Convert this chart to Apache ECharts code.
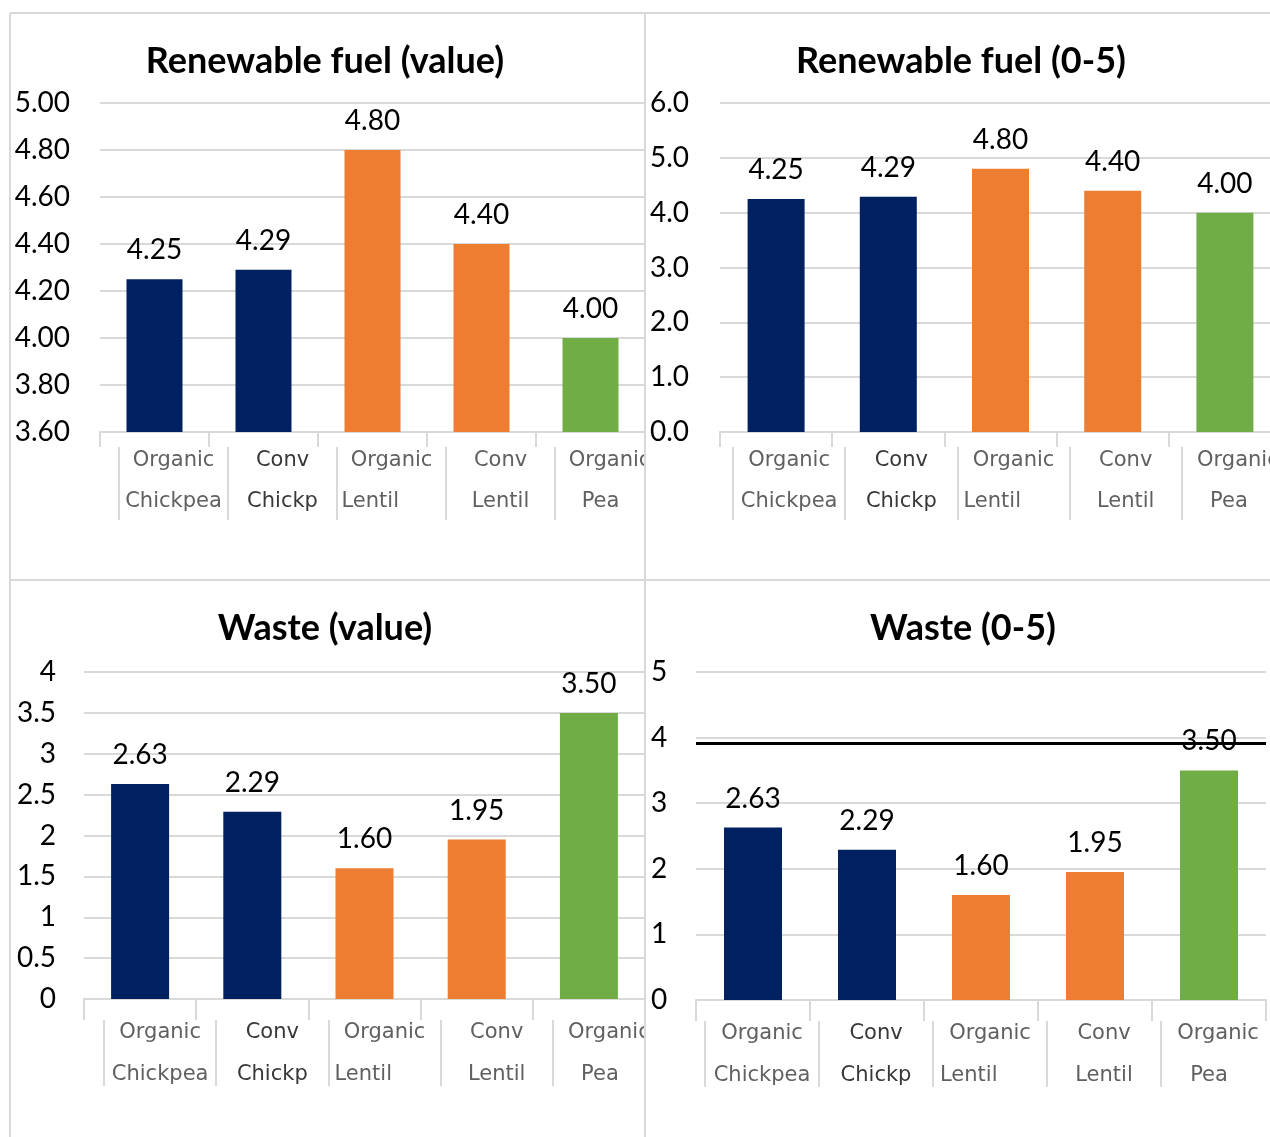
<!DOCTYPE html>
<html>
<head>
<meta charset="utf-8">
<script src="https://cdn.jsdelivr.net/npm/echarts@6/dist/echarts.min.js"></script>
<style>
html,body{margin:0;padding:0;background:#fff;overflow:hidden;}
#chart{width:1300px;height:1137px;}
</style>
</head>
<body>
<div id="chart"></div>
<script>
// ---- data ----
const categories = ['Organic\nChickpea', 'Conv\nChickp', 'Organic\nLentil', 'Conv\nLentil', 'Organic\nPea'];
const renewableValue = [4.25, 4.29, 4.80, 4.40, 4.00];
const renewableScore = [4.25, 4.29, 4.80, 4.40, 4.00];
const wasteValue = [2.63, 2.29, 1.60, 1.95, 3.50];
const wasteScore = [2.63, 2.29, 1.60, 1.95, 3.50];
const wasteScoreLine = 3.92;
// y axis ticks: [min, max, interval]
const ticksRenewableValue = [3.6, 5.0, 0.2];
const ticksRenewableScore = [0, 6, 1];
const ticksWasteValue = [0, 4, 0.5];
const ticksWasteScore = [0, 5, 1];
const titles = ['Renewable fuel (value)', 'Renewable fuel (0-5)', 'Waste (value)', 'Waste (0-5)'];
// colour per category
const categoryColors = ['#002060', '#002060', '#ED7D31', '#ED7D31', '#70AD47'];

// ---- layout ----
const panels = [
  {title: titles[0], data: renewableValue, ticks: ticksRenewableValue, fmt: v => v.toFixed(2),
   tx: 320, ty: 38, left: 100, top: 103, width: 545, height: 329, barW: 56, tickLen: 15,
   shift: 19, sepLen: 73, lineH: 41, labMargin: 34, yAlign: 'right', yMargin: 30},
  {title: titles[1], data: renewableScore, ticks: ticksRenewableScore, fmt: v => v.toFixed(1),
   tx: 956, ty: 38, left: 720, top: 103, width: 561, height: 329, barW: 57, tickLen: 15,
   shift: 13, sepLen: 73, lineH: 41, labMargin: 34, yAlign: 'left', yMargin: 70},
  {title: titles[2], data: wasteValue, ticks: ticksWasteValue, fmt: v => String(v),
   tx: 320, ty: 605, left: 84, top: 672, width: 561, height: 327, barW: 58, tickLen: 21,
   shift: 20, sepLen: 66, lineH: 42, labMargin: 34, yAlign: 'right', yMargin: 28},
  {title: titles[3], data: wasteScore, ticks: ticksWasteScore, fmt: v => String(v),
   tx: 958, ty: 605, left: 696, top: 672, width: 570, height: 328, barW: 58, tickLen: 21,
   shift: 9, sepLen: 66, lineH: 42, labMargin: 34, yAlign: 'left', yMargin: 45, markLine: wasteScoreLine}
];

const GRID = '#d9d9d9';
const option = {
  animation: false,
  backgroundColor: '#fff',
  title: [], grid: [], xAxis: [], yAxis: [], series: [],
  graphic: [
    {type: 'rect', z: 100, shape: {x: 646, y: 444, width: 64, height: 82}, style: {fill: '#fff'}},
    {type: 'rect', z: 100, shape: {x: 646, y: 1016, width: 46, height: 78}, style: {fill: '#fff'}},
    {type: 'line', z: 101, shape: {x1: 10, y1: 13, x2: 1300, y2: 13}, style: {stroke: GRID, lineWidth: 2}},
    {type: 'line', z: 101, shape: {x1: 10, y1: 13, x2: 10, y2: 1137}, style: {stroke: GRID, lineWidth: 2}},
    {type: 'line', z: 101, shape: {x1: 10, y1: 580, x2: 1300, y2: 580}, style: {stroke: GRID, lineWidth: 2}},
    {type: 'line', z: 101, shape: {x1: 645, y1: 13, x2: 645, y2: 1137}, style: {stroke: GRID, lineWidth: 2}}
  ]
};

function catLabel(value, idx) {
  const parts = value.split('\n');
  if (idx === 1) return '{b|' + parts[0] + '}\n{b|' + parts[1] + '}';
  if (idx === 2) return '{c|' + parts[0] + '}\n{l|' + parts[1] + '}';
  if (idx === 4) return '{n|' + parts[0] + '}\n{p|' + parts[1] + '}';
  return '{n|' + parts[0] + '}\n{n|' + parts[1] + '}';
}

const LABFONT = 'DejaVu Sans';
const LABSIZE = 21;
panels.forEach((p, i) => {
  const g = i * 2;
  option.title.push({
    text: p.title, left: p.tx, top: p.ty, textAlign: 'center',
    textStyle: {fontFamily: 'Lato', fontWeight: 'bold', fontSize: 36, color: '#000'}
  });
  option.grid.push({left: p.left, top: p.top, width: p.width, height: p.height, containLabel: false});
  option.grid.push({left: p.left + p.shift, top: p.top + p.height + p.tickLen - 1, width: p.width, height: 1, containLabel: false});
  option.xAxis.push({
    type: 'category', gridIndex: g, data: categories, boundaryGap: true,
    axisLine: {show: true, lineStyle: {color: GRID, width: 2}},
    axisTick: {show: true, length: p.tickLen, lineStyle: {color: GRID, width: 2}},
    axisLabel: {show: false}
  });
  option.xAxis.push({
    type: 'category', gridIndex: g + 1, data: categories, boundaryGap: true,
    axisLine: {show: false},
    axisTick: {show: true, length: p.sepLen, lineStyle: {color: GRID, width: 2}},
    axisLabel: {
      show: true, interval: 0, formatter: catLabel, margin: p.labMargin,
      verticalAlign: 'middle', color: '#5f5f5f', fontFamily: LABFONT, fontSize: LABSIZE, lineHeight: p.lineH,
      rich: {
        n: {fontFamily: LABFONT, fontSize: LABSIZE, color: '#606060', lineHeight: p.lineH},
        c: {fontFamily: LABFONT, fontSize: LABSIZE, color: '#606060', lineHeight: p.lineH, width: 100, align: 'center'},
        b: {fontFamily: LABFONT, fontSize: LABSIZE, color: '#383838', lineHeight: p.lineH},
        l: {fontFamily: LABFONT, fontSize: LABSIZE, color: '#606060', lineHeight: p.lineH, align: 'left'},
        p: {fontFamily: LABFONT, fontSize: LABSIZE, color: '#606060', lineHeight: p.lineH, padding: [0, 18, 0, 0]}
      }
    }
  });
  option.yAxis.push({
    type: 'value', gridIndex: g, min: p.ticks[0], max: p.ticks[1], interval: p.ticks[2],
    axisLine: {show: false}, axisTick: {show: false},
    splitLine: {show: true, lineStyle: {color: GRID, width: 2}},
    axisLabel: {show: true, formatter: p.fmt, align: p.yAlign, margin: p.yMargin,
      fontFamily: 'Lato', fontSize: 28, color: '#000'}
  });
  option.yAxis.push({type: 'value', gridIndex: g + 1, show: false});
  const s = {
    type: 'bar', xAxisIndex: g, yAxisIndex: g, barWidth: p.barW,
    data: p.data.map((v, k) => ({value: v, itemStyle: {color: categoryColors[k]}})),
    label: {show: true, position: 'top', distance: 15, formatter: d => d.value.toFixed(2),
      fontFamily: 'Lato', fontSize: 28, color: '#000'},
    clip: true
  };
  if (p.markLine !== undefined) {
    s.markLine = {
      symbol: 'none', silent: true, label: {show: false}, z: 10,
      lineStyle: {color: '#000', width: 3, type: 'solid'},
      data: [{yAxis: p.markLine}]
    };
  }
  option.series.push(s);
});

const chart = echarts.init(document.getElementById('chart'), null, {renderer: 'canvas'});
chart.setOption(option);
</script>
</body>
</html>
